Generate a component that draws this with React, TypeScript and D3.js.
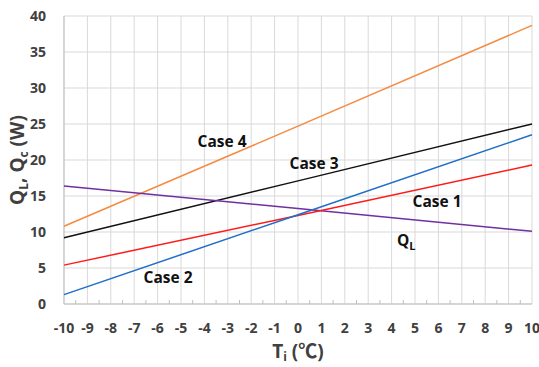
import React from "react";
import * as d3 from "d3";

// temperatures read at ends and middle
const temps = [-10, 0, 10];
const case1 = [5.4, 12.3, 19.3];
const case2 = [1.3, 12.4, 23.5];
const case3 = [9.2, 17.1, 25.0];
const case4 = [10.8, 24.7, 38.7];
const qL = [16.4, 13.25, 10.1];

const xTicks = d3.range(-10, 11);
const yTicks = [0, 5, 10, 15, 20, 25, 30, 35, 40];

const series = [
  { name: "Case 4", values: case4, color: "#f58a42" },
  { name: "Case 3", values: case3, color: "#111111" },
  { name: "QL", values: qL, color: "#7030a0" },
  { name: "Case 1", values: case1, color: "#ff1a1a" },
  { name: "Case 2", values: case2, color: "#1f6ec8" },
];

const W = 539;
const H = 367;
const margin = { left: 64, right: 7, top: 16, bottom: 63 };

const font = "'Open Sans', 'Noto Sans CJK KR', sans-serif";

const App = () => {
  const x = d3
    .scaleLinear()
    .domain([-10, 10])
    .range([margin.left, W - margin.right]);
  const y = d3
    .scaleLinear()
    .domain([0, 40])
    .range([H - margin.bottom, margin.top]);

  const line = d3
    .line<number>()
    .x((d, i) => x(temps[i]))
    .y((d) => y(d));

  const minor = d3.range(-9.5, 10, 1);

  return (
    <svg
      width={W}
      height={H}
      style={{ position: "absolute", left: 0, top: 0, background: "#fff" }}
    >
      {/* grid */}
      {yTicks.map((t) => (
        <line
          key={"gy" + t}
          x1={x(-10)}
          x2={x(10)}
          y1={y(t)}
          y2={y(t)}
          stroke="#d9d9d9"
          strokeWidth={1}
        />
      ))}
      {xTicks.map((t) => (
        <line
          key={"gx" + t}
          x1={x(t)}
          x2={x(t)}
          y1={y(0)}
          y2={y(40)}
          stroke="#d9d9d9"
          strokeWidth={1}
        />
      ))}
      {/* axes */}
      <line x1={x(-10)} x2={x(-10)} y1={y(0)} y2={y(40)} stroke="#bfbfbf" />
      <line x1={x(-10)} x2={x(10)} y1={y(0)} y2={y(0)} stroke="#bfbfbf" />
      {minor.map((t) => (
        <line
          key={"mt" + t}
          x1={x(t)}
          x2={x(t)}
          y1={y(0)}
          y2={y(0) - 4}
          stroke="#bfbfbf"
        />
      ))}

      {/* series */}
      {series.map((s) => (
        <path
          key={s.name}
          d={line(s.values) || ""}
          fill="none"
          stroke={s.color}
          strokeWidth={1.5}
        />
      ))}

      {/* tick labels */}
      {yTicks.map((t) => (
        <text
          key={"yl" + t}
          x={46}
          y={y(t)}
          dy="0.35em"
          textAnchor="end"
          fontFamily={font}
          fontWeight="bold"
          fontSize={14}
          fill="#404040"
        >
          {t}
        </text>
      ))}
      {xTicks.map((t) => (
        <text
          key={"xl" + t}
          x={x(t)}
          y={328}
          dy="0.35em"
          textAnchor="middle"
          fontFamily={font}
          fontWeight="bold"
          fontSize={14}
          fill="#404040"
        >
          {t}
        </text>
      ))}

      {/* axis titles */}
      <text
        x={(x(-10) + x(10)) / 2}
        y={358}
        textAnchor="middle"
        fontFamily={font}
        fontWeight="bold"
        fontSize={19}
        fill="#404040"
      >
        T<tspan fontSize={12} dy={3}>i</tspan>
        <tspan dy={-3}> (℃)</tspan>
      </text>
      <text
        transform={`translate(24,${(y(0) + y(40)) / 2}) rotate(-90)`}
        textAnchor="middle"
        fontFamily={font}
        fontWeight="bold"
        fontSize={19}
        fill="#404040"
      >
        Q<tspan fontSize={12} dy={4}>L</tspan>
        <tspan dy={-4}>, Q</tspan>
        <tspan fontSize={12} dy={4}>c</tspan>
        <tspan dy={-4}> (W)</tspan>
      </text>

      {/* series labels */}
      <text x={222} y={147} textAnchor="middle" fontFamily={font} fontWeight="bold" fontSize={15.5} fill="#111">
        Case 4
      </text>
      <text x={314} y={169} textAnchor="middle" fontFamily={font} fontWeight="bold" fontSize={15.5} fill="#111">
        Case 3
      </text>
      <text x={437} y={207} textAnchor="middle" fontFamily={font} fontWeight="bold" fontSize={15.5} fill="#111">
        Case 1
      </text>
      <text x={168} y={283} textAnchor="middle" fontFamily={font} fontWeight="bold" fontSize={15.5} fill="#111">
        Case 2
      </text>
      <text x={397} y={246} fontFamily={font} fontWeight="bold" fontSize={15.5} fill="#111">
        Q<tspan fontSize={11} dy={4}>L</tspan>
      </text>
    </svg>
  );
};

export default App;
